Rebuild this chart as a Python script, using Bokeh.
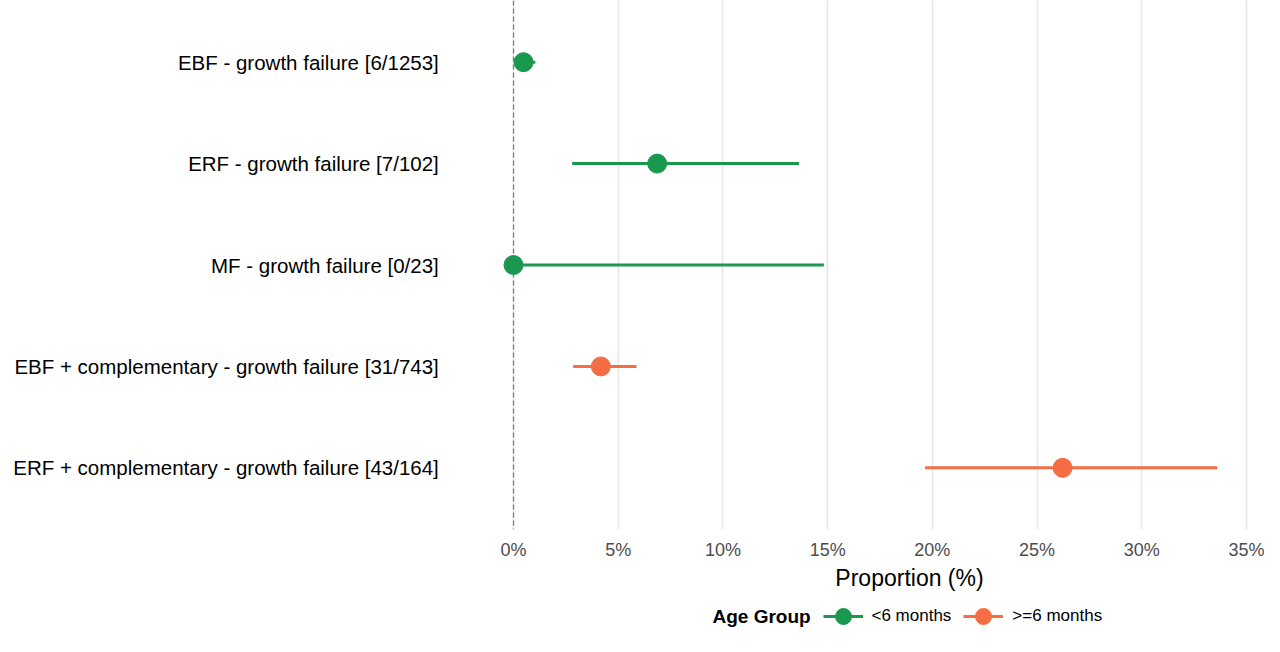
from bokeh.plotting import figure
from bokeh.layouts import column
from bokeh.core.properties import value
from bokeh.models import (ColumnDataSource, LabelSet, Label, Span, Legend, LegendItem,
                          FixedTicker, PrintfTickFormatter, Range1d)
from bokeh.embed import file_html
from bokeh.resources import INLINE

# ---- data ----
categories = [
    "EBF - growth failure  [6/1253]",
    "ERF - growth failure  [7/102]",
    "MF - growth failure  [0/23]",
    "EBF + complementary - growth failure  [31/743]",
    "ERF + complementary - growth failure  [43/164]",
]
age_group = ["<6 months", "<6 months", "<6 months", ">=6 months", ">=6 months"]
estimate = [0.48, 6.86, 0.0, 4.17, 26.22]
lower = [0.18, 2.80, 0.0, 2.85, 19.65]
upper = [1.04, 13.63, 14.82, 5.87, 33.60]
x_ticks = [0, 5, 10, 15, 20, 25, 30, 35]
groups = ["<6 months", ">=6 months"]
group_colors = {"<6 months": "#1a9850", ">=6 months": "#f46d43"}
x_title = "Proportion (%)"
legend_title = "Age Group"

FONT = "Liberation Sans"
n = len(categories)
ypos = [n - i for i in range(n)]

xr = Range1d(-24.495, 35.859)

# ---- main panel ----
p = figure(width=1264, height=562, output_backend="svg", toolbar_location=None,
           x_range=xr, y_range=Range1d(0.392, 5.608),
           y_axis_location=None, min_border_left=0, min_border_right=0,
           min_border_top=0, min_border_bottom=30)
p.outline_line_color = None
p.background_fill_color = "white"
p.border_fill_color = "white"

p.xgrid.grid_line_color = "#E6E6E6"
p.xgrid.grid_line_width = 1.6
p.xgrid.ticker = FixedTicker(ticks=x_ticks)
p.ygrid.visible = False

ax = p.xaxis[0]
ax.ticker = FixedTicker(ticks=x_ticks)
ax.formatter = PrintfTickFormatter(format="%d%%")
ax.axis_line_color = None
ax.major_tick_line_color = None
ax.minor_tick_line_color = None
ax.major_tick_out = 0
ax.major_tick_in = 0
ax.minor_tick_out = 0
ax.minor_tick_in = 0
ax.major_label_standoff = 10
ax.major_label_text_font = FONT
ax.major_label_text_font_size = "18px"
ax.major_label_text_color = "#4D4D4D"

p.add_layout(Span(location=0, dimension="height", line_color="#7F7F7F",
                  line_width=1.3, line_dash="5 3", level="underlay"))

sources = {}
for g in groups:
    idx = [i for i in range(n) if age_group[i] == g]
    src = ColumnDataSource(dict(
        y=[ypos[i] for i in idx],
        est=[estimate[i] for i in idx],
        lo=[lower[i] for i in idx],
        hi=[upper[i] for i in idx],
    ))
    sources[g] = src
    p.segment(x0="lo", y0="y", x1="hi", y1="y", source=src,
              line_color=group_colors[g], line_width=3)
    p.scatter(x="est", y="y", source=src, size=19, marker="circle",
              fill_color=group_colors[g], line_color=group_colors[g])

lab_src = ColumnDataSource(dict(y=ypos, text=categories))
p.add_layout(LabelSet(x=-3.294, y="y", text="text", source=lab_src,
                      text_align="right", text_baseline="middle",
                      text_font=value(FONT), text_font_size=value("20.5px"),
                      text_color="black"))

# ---- axis title + legend strip ----
q = figure(width=1264, height=74, output_backend="svg", toolbar_location=None,
           x_range=xr, y_range=Range1d(-174, -100),
           x_axis_location=None, y_axis_location=None,
           min_border_left=0, min_border_right=0, min_border_top=0, min_border_bottom=0)
q.outline_line_color = None
q.grid.visible = False

q.add_layout(Label(x=18.908, y=-115, text=x_title, text_font=FONT,
                   text_font_size="23px", text_align="center",
                   text_baseline="middle", text_color="black"))

items = []
for g in groups:
    seg = q.segment(x0="lo", y0="y", x1="hi", y1="y", source=sources[g],
                    line_color=group_colors[g], line_width=3)
    sc = q.scatter(x="est", y="y", source=sources[g], size=19, marker="circle",
                   fill_color=group_colors[g], line_color=group_colors[g])
    items.append(LegendItem(label=g, renderers=[seg, sc]))

legend = Legend(items=items, orientation="horizontal", location=(822.5, 0),
                glyph_width=40, glyph_height=40, label_standoff=9, spacing=12,
                padding=0, margin=0, border_line_color=None,
                background_fill_alpha=0,
                label_text_font=FONT, label_text_font_size="17px",
                label_text_color="black")
q.add_layout(legend)
q.add_layout(Label(x=9.502, y=-154, text=legend_title, text_font=FONT,
                   text_font_size="19px", text_font_style="bold",
                   text_baseline="middle", text_color="black"))

layout = column(p, q, spacing=0)
open("out.html", "w").write(file_html(layout, INLINE))
